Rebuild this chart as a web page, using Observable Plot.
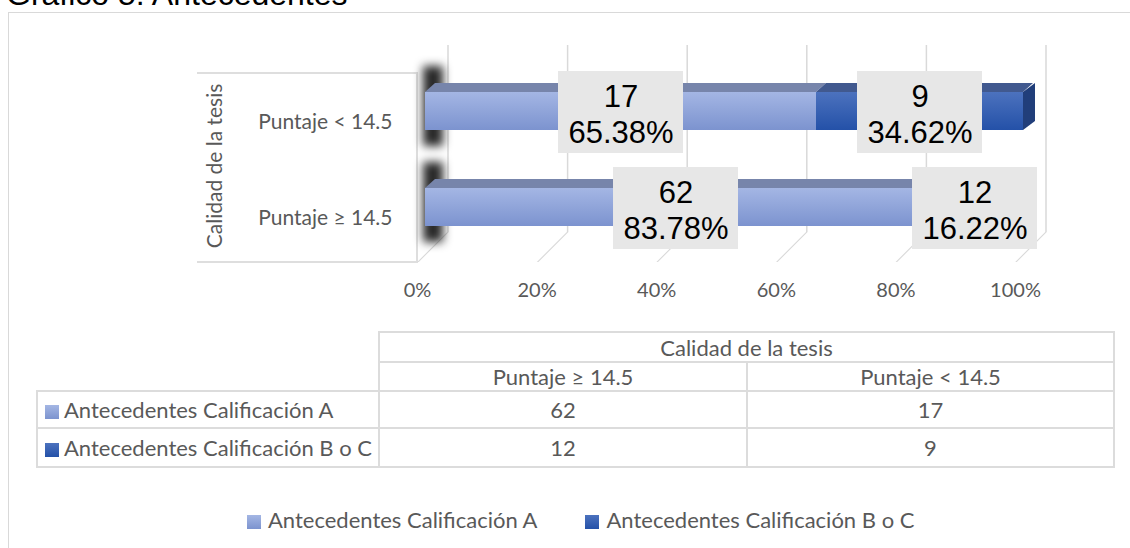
<!DOCTYPE html>
<html>
<head>
<meta charset="utf-8">
<script src="https://cdn.jsdelivr.net/npm/d3@7"></script>
<script src="https://cdn.jsdelivr.net/npm/@observablehq/plot@0.6"></script>
<style>
html,body{margin:0;padding:0;background:#fff;}
#wrap{position:relative;width:1130px;height:548px;overflow:hidden;font-family:Lato,"Open Sans",sans-serif;}
#frame{position:absolute;left:8px;top:12px;width:1300px;height:700px;border:1px solid #d9d9d9;box-sizing:border-box;}
#title{position:absolute;left:6px;top:-22px;font-family:"Liberation Sans",Arial,sans-serif;font-size:32px;line-height:32px;color:#000;white-space:nowrap;}
#chart{position:absolute;left:0;top:0;}
#catbox{position:absolute;left:197px;top:72px;width:221px;height:191px;border:2px solid #dedede;border-left:none;box-sizing:border-box;}
#tbl{position:absolute;left:36px;top:331px;border-collapse:collapse;table-layout:fixed;}
#tbl td{border:2px solid #dcdcdc;text-align:center;vertical-align:middle;padding:0;font-family:Lato,sans-serif;font-size:22px;color:#595959;white-space:nowrap;overflow:hidden;}
#tbl td.blank{border:none;}
#tbl td.rowlab{text-align:left;padding-left:7px;}
.sw{display:inline-block;width:14px;height:14px;margin-right:5px;vertical-align:-1px;}
#legend{position:absolute;left:247px;top:506px;font-family:Lato,sans-serif;font-size:22px;color:#595959;white-space:nowrap;}
#legend .item{display:inline-block;margin-right:48px;}
#legend .sw{margin-right:7px;}
.topface{transform-box:fill-box;transform-origin:0 100%;transform:skewX(-48deg);}
.endface{transform-box:fill-box;transform-origin:0 0;transform:skewY(-37deg);}
.floorline{transform-box:fill-box;transform-origin:0 0;transform:skewX(-45deg);}
.shadowg{filter:blur(5px);}
</style>
</head>
<body>
<svg width="0" height="0" style="position:absolute">
  <defs>
    <linearGradient id="gradA" x1="0" y1="0" x2="0" y2="1">
      <stop offset="0" stop-color="#a4b6e4"/>
      <stop offset="1" stop-color="#7c93cf"/>
    </linearGradient>
    <linearGradient id="gradB" x1="0" y1="0" x2="0" y2="1">
      <stop offset="0" stop-color="#4c72be"/>
      <stop offset="1" stop-color="#2451a8"/>
    </linearGradient>
  </defs>
</svg>
<div id="wrap">
  <div id="frame"></div>
  <div id="title"></div>
  <div id="catbox"></div>
  <div id="chart"></div>
  <table id="tbl"></table>
  <div id="legend"></div>
</div>
<script>
// ---- data ----
const chartTitle = "Gráfico 5: Antecedentes";
const axisTitle = "Calidad de la tesis";
const categories = ["Puntaje ≥ 14.5", "Puntaje < 14.5"];
const seriesNames = ["Antecedentes Calificación A", "Antecedentes Calificación B o C"];
const valuesA = [62, 17];
const valuesBC = [12, 9];
const xTicks = [0, 0.2, 0.4, 0.6, 0.8, 1];

// ---- styles ----
const frontFill = ["url(#gradA)", "url(#gradB)"];
const topFill = ["#7785ab", "#41598f"];
const endFill = "#213e7a";
const shadowFill = "#111111";
const gridStroke = "#d9d9d9";
const floorStroke = "#d8d8d8";
const swatchCss = ["linear-gradient(#a4b6e4,#7c93cf)", "linear-gradient(#4c72be,#2451a8)"];

const seriesValues = [valuesA, valuesBC];
const rows = [];
categories.forEach((cat, i) => {
  const total = seriesValues.reduce((s, v) => s + v[i], 0);
  let cum = 0;
  seriesValues.forEach((vals, k) => {
    const v = vals[i];
    rows.push({cat, k, series: seriesNames[k], value: v,
      mid: (cum + v / 2) / total,
      label: v + "\n" + (100 * v / total).toFixed(2) + "%"});
    cum += v;
  });
});

document.getElementById("title").textContent = chartTitle;

const stackOpts = (extra) => Plot.stackX({x: "value", y: "cat", offset: "normalize", ...extra});

const chart = Plot.plot({
  width: 1130,
  height: 320,
  marginLeft: 425,
  marginRight: 107,
  marginTop: 45,
  marginBottom: 88,
  style: {background: "transparent", fontFamily: "Lato, sans-serif", overflow: "visible"},
  x: {domain: [0, 1], axis: null},
  y: {type: "band", domain: [categories[1], categories[0]], range: [44, 274],
      paddingInner: 0.6042, paddingOuter: 0.5, round: false, axis: null},
  color: {type: "identity"},
  marks: [
    Plot.ruleX(xTicks, {x: d => d, dx: 22.5, stroke: gridStroke, strokeWidth: 1.5}),
    Plot.ruleX(xTicks, {x: d => d, dx: 22.5, insetTop: 187, insetBottom: -30, stroke: floorStroke, strokeWidth: 1.5}),
    Plot.barX(categories, {x1: () => 0, x2: () => 0, y: d => d, insetLeft: -2, insetRight: -18,
      insetTop: -26, insetBottom: -16, fill: shadowFill, fillOpacity: 0.9}),
    Plot.barX(rows, stackOpts({fill: d => frontFill[d.k]})),
    Plot.barX(rows, stackOpts({fill: d => topFill[d.k], insetBottom: 29, dy: -9})),
    Plot.barX(categories, {x1: () => 1, x2: () => 1, y: d => d, insetRight: -12, fill: endFill}),
    Plot.barX(rows, {x1: "mid", x2: "mid", y: "cat", insetLeft: -62.5, insetRight: -62.5,
      insetTop: -21, insetBottom: -23, fill: "#e7e7e7"}),
    Plot.text(rows, {x: "mid", y: "cat", text: "label", fontFamily: "Liberation Sans, Arial, sans-serif",
      fontSize: 31, lineHeight: 1.16, fill: "#000", dy: 2}),
    Plot.text(xTicks, {x: d => d, text: d => d3.format(".0%")(d), frameAnchor: "bottom", dy: 64, dx: -8,
      fontSize: 20, fill: "#595959"}),
    Plot.text(categories, {y: d => d, text: d => d, frameAnchor: "left", textAnchor: "end", dx: -33, dy: 11,
      fontSize: 21, fill: "#595959"}),
    Plot.text([axisTitle], {text: d => d, frameAnchor: "left", textAnchor: "middle", rotate: -90, dx: -210, dy: 27,
      fontSize: 21, fill: "#595959"})
  ]
});
document.getElementById("chart").appendChild(chart);

// 3D look: skew the top faces, end faces and floor lines drawn by the marks above
const sel = d3.select(chart);
const lc = s => (s || "").toLowerCase();
sel.selectAll("rect").each(function() {
  const f = lc(this.getAttribute("fill")) || lc(this.parentNode.getAttribute("fill"));
  if (topFill.map(lc).includes(f)) this.classList.add("topface");
  if (f === lc(endFill)) this.classList.add("endface");
});
sel.selectAll("g").each(function() {
  const f = lc(this.getAttribute("fill"));
  const s = lc(this.getAttribute("stroke"));
  if (f === lc(shadowFill)) this.classList.add("shadowg");
  if (s === lc(floorStroke)) d3.select(this).selectAll("line").classed("floorline", true);
});

// ---- data table ----
const tbl = document.getElementById("tbl");
let html = '<colgroup><col style="width:342px"><col style="width:368px"><col style="width:367px"></colgroup>';
html += '<tr style="height:30px"><td class="blank" rowspan="2"></td><td colspan="2">' + axisTitle + '</td></tr>';
html += '<tr style="height:29px">' + categories.map(c => '<td>' + c + '</td>').join('') + '</tr>';
seriesNames.forEach((s, k) => {
  html += '<tr style="height:' + (k === 0 ? 37 : 39) + 'px"><td class="rowlab"><span class="sw" style="background:' + swatchCss[k] + '"></span>' + s + '</td>' +
    seriesValues[k].map(v => '<td>' + v + '</td>').join('') + '</tr>';
});
tbl.innerHTML = html;

// ---- legend ----
document.getElementById("legend").innerHTML = seriesNames.map((s, k) =>
  '<span class="item"><span class="sw" style="background:' + swatchCss[k] + '"></span>' + s + '</span>').join('');
</script>
</body>
</html>
